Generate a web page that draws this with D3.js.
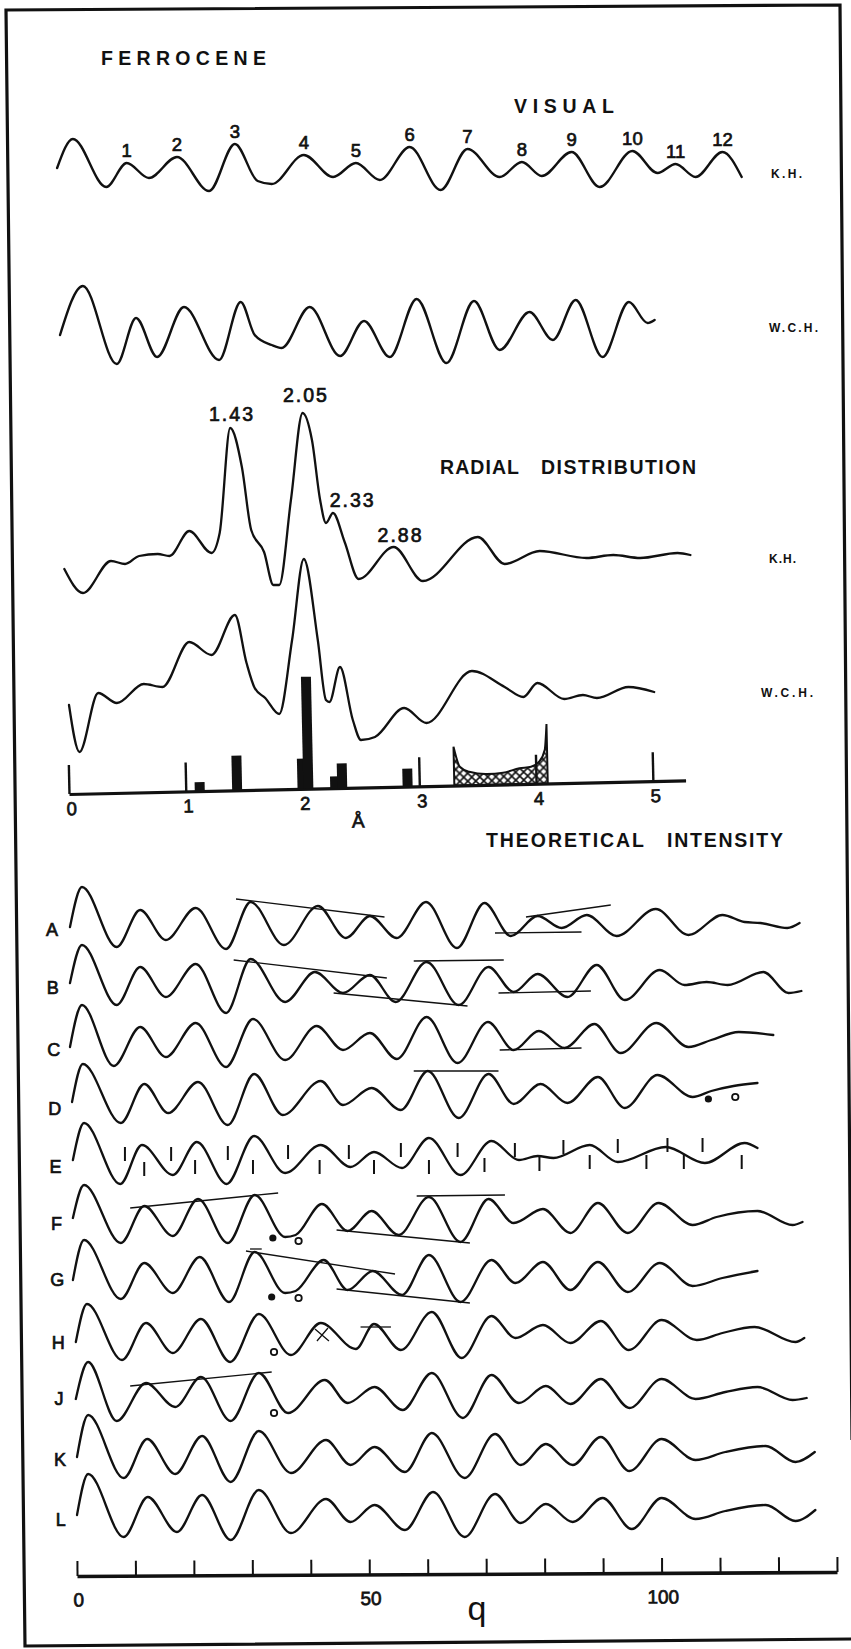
<!DOCTYPE html>
<html>
<head>
<meta charset="utf-8">
<script src="https://cdn.jsdelivr.net/npm/d3@7"></script>
<style>
    body { margin: 0; background: #fff; }
    text { font-family: 'Liberation Sans', Arial, sans-serif; fill: #111; }
    .pen { stroke: #111; stroke-width: 0.7; paint-order: stroke; }
</style>
</head>
<body>
<svg id="chart" width="851" height="1649"></svg>
<script>
// visual curves: [q, intensity]
const visualKH = [[-3.4,1],[-0.7,15.5],[5.0,-8.5],[8.5,3.5],[12.3,-4],[17.1,6.5],[22.6,-10.5],[27.0,13],[30.9,-5.5],[33.3,-7],[38.8,7.5],[43.8,-3.5],[47.7,3.5],[51.8,-5],[56.9,11.5],[62.2,-10],[66.8,10.5],[72.3,-3.5],[76.1,4],[79.5,-3],[84.6,9],[89.4,-8.5],[95.0,9.5],[99.3,-1.5],[102.4,3],[105.8,-3.5],[110.4,9],[113.7,-3.5]];
const visualPeakQ = [8.5, 17.1, 27.0, 38.8, 47.7, 56.9, 66.8, 76.1, 84.6, 95.0, 102.4, 110.4];
const visualPeakNames = ['1','2','3','4','5','6','7','8','9','10','11','12'];
const visualWCH = [[-2.9,-2.5],[1.0,22],[6.8,-17],[10.1,6],[13.7,-13.5],[18.3,11.5],[24.3,-15],[28.0,14],[30.4,-2.5],[33.3,-7.5],[35.0,-9],[39.8,11.5],[45.0,-13],[49.1,4.5],[53.5,-13.5],[58.1,15.5],[63.2,-16.5],[67.9,14.5],[72.3,-10],[77.4,9],[81.4,-5],[85.3,15],[89.9,-13.5],[94.4,14],[97.6,3.5],[98.8,5]];

// radial distribution: [r (Å), f(r)]
const radialKH = [[-0.04,-7],[0.12,-19],[0.36,-3],[0.48,-4.5],[0.60,-0.5],[0.76,0.5],[0.86,-0.5],[1.03,12],[1.22,1],[1.29,11],[1.38,63.5],[1.48,44],[1.56,12.5],[1.67,1.5],[1.75,-15],[1.80,-15],[1.90,27.5],[2.00,71],[2.08,57.5],[2.15,27.5],[2.20,16],[2.26,21],[2.36,6.5],[2.48,-12],[2.78,4],[3.03,-13],[3.50,9],[3.73,-4.5],[4.03,2],[4.43,-1.5],[4.66,0],[4.89,-1.5],[5.21,1],[5.32,0]];
const radialWCH = [[0.00,-6.5],[0.09,-30],[0.25,-0.5],[0.41,-5.5],[0.64,4],[0.80,2.5],[1.03,25],[1.22,18.5],[1.42,38.5],[1.52,14.5],[1.59,2],[1.68,-3],[1.80,-11],[1.91,26],[2.01,66.5],[2.13,26],[2.20,-4],[2.23,-5],[2.32,12.5],[2.43,-14],[2.50,-24],[2.62,-22.5],[2.87,-8],[3.06,-15.5],[3.45,10.5],[3.73,2.5],[3.89,-2.5],[4.01,4.5],[4.24,-3.5],[4.40,-1.5],[4.52,-3],[4.79,2.5],[5.01,0]];
const radialPeakNames = ['1.43', '2.05', '2.33', '2.88'];
const radialPeakR = [1.387, 2.02, 2.42, 2.83];
const radialPeakV = [70.5, 80, 27.5, 10];
const rTicks = [0, 1, 2, 3, 4, 5];

// distance bars
const barR = [1.12, 1.44, 2.00, 2.05, 2.28, 2.34, 2.90];
const barH = [0.8, 3.1, 2.7, 10, 1.05, 2.2, 1.6];
const hatchRange = [[3.30,3.46],[3.35,1.67],[3.43,1.2],[3.58,0.96],[3.72,1.05],[3.86,1.41],[3.96,1.53],[4.03,1.96],[4.08,2.99],[4.10,5.3]];

// theoretical intensity curves: [q, intensity]
const rowA = [[-1.2,1.5],[0.85,21.5],[6.8,-8.5],[10.8,10],[15.2,-5],[20.3,11],[25.5,-9.5],[29.7,14],[35.4,-7.5],[41.2,12],[46.0,-4],[50.1,7],[54.7,-4],[59.7,14],[65.0,-9],[69.7,13.5],[74.2,-3],[78.8,7],[82.9,1],[87.2,7.5],[92.3,-3],[99.0,10.5],[104.6,-2.5],[110.4,7.5],[114.2,4],[116.9,3.5],[121.5,1],[123.6,3.5]];
const rowB = [[-1.2,2.5],[0.85,21.5],[6.8,-8.5],[10.8,10.5],[15.2,-4.5],[20.3,12],[25.5,-12.5],[29.7,14.5],[35.6,-7],[40.7,8],[45.5,-2.5],[50.1,6.5],[54.5,-7],[59.8,13],[65.3,-8.5],[70.4,10.5],[74.7,-2],[78.8,7],[83.9,-4.5],[88.9,11.5],[93.7,-6],[99.7,9],[103.9,1.5],[107.7,3],[111.3,1.5],[117.4,8],[121.7,-2.5],[123.9,-1.5]];
const rowC = [[-1.2,1.5],[0.85,22.5],[6.3,-8],[10.8,11.5],[15.2,-3.5],[20.3,13.5],[25.5,-8.5],[30.1,15.5],[35.6,-5],[41.0,12],[45.5,0],[50.1,8.5],[54.7,-4.5],[59.8,16.5],[65.1,-6.5],[70.3,14],[74.7,0],[79.0,9.5],[83.4,1],[88.5,13],[93.0,-1.5],[99.1,13.5],[104.6,1.5],[108.5,5],[113.2,9],[119.1,7.5]];
const rowD = [[-0.85,3.5],[1.0,22.5],[7.5,-7],[11.5,12.5],[15.6,-2],[20.7,13.5],[25.8,-8],[30.3,17.5],[35.2,-3],[41.7,14],[45.5,2],[50.4,10.5],[55.4,-0.5],[60.0,19],[65.3,-4.5],[70.4,17.5],[74.7,2.5],[79.3,12.5],[83.9,3],[89.1,16],[93.7,0.5],[99.3,17],[105.3,6],[108.5,9],[112.3,11.5],[116.4,13]];
const rowE = [[-0.7,3.5],[1.2,22],[7.4,-8.5],[11.1,11],[16.4,-4],[20.5,12.5],[25.6,-8.5],[30.3,15.5],[35.6,-3],[41.7,11],[46.8,0],[50.8,7.5],[55.6,-0.5],[60.2,14.5],[65.6,-4],[70.9,13],[75.6,3.5],[78.8,5.5],[81.5,4.5],[87.7,11],[92.5,2.5],[100.7,10],[107.4,2],[114.2,12],[116.4,9.5]];
const rowF = [[-0.7,3],[1.2,19.5],[7.5,-9.5],[11.5,9],[16.4,-6],[20.7,12.5],[25.8,-9.5],[30.4,14.5],[35.6,-6.5],[37.4,-5.5],[41.9,10],[46.3,-3.5],[50.4,6.5],[55.0,-5.5],[60.2,13.5],[65.6,-9],[70.4,12.5],[74.7,0.5],[79.7,7.5],[84.4,-4.5],[89.1,10.5],[94.2,-4.5],[99.5,10.5],[105.3,-0.5],[109.4,3.5],[116.4,6.5],[122.4,-0.5],[124.1,1]];
const rowG = [[-0.7,0],[1.2,20],[7.5,-9.5],[11.5,8.5],[16.4,-6.5],[21.0,11.5],[26.0,-11],[30.4,14],[35.6,-6.5],[37.4,-5.5],[42.2,10],[46.3,-5],[50.6,4.5],[55.6,-7.5],[60.2,12.5],[65.6,-11],[70.9,10],[75.0,-1.5],[79.7,9],[84.4,-5],[89.1,9],[94.2,-6],[99.7,8.5],[105.3,-3],[110.4,1],[116.4,4.5]];
const rowH = [[-0.2,0.5],[1.7,19.5],[7.7,-8.5],[11.8,10],[16.4,-5],[21.2,12],[26.2,-9.5],[31.1,14.5],[36.6,-6],[41.7,10],[47.7,-3],[50.8,9.5],[55.4,-3.5],[60.7,15.5],[65.8,-7.5],[70.9,13.5],[75.0,2.5],[79.7,9],[84.4,0],[89.6,11],[94.4,-3.5],[100.0,11.5],[106.0,1.5],[110.4,5],[115.9,8],[122.9,0.5],[124.4,2.5]];
const rowJ = [[-0.2,0],[1.9,18.5],[6.8,-11],[11.8,8],[16.8,-4],[21.2,11],[26.3,-11],[31.1,13],[36.1,-7],[42.4,9.5],[46.3,-2],[50.9,6],[55.7,-5.5],[60.7,13],[66.0,-9.5],[70.9,12],[75.6,-2],[80.2,6.5],[84.4,-2.5],[89.6,10],[94.5,-4.5],[100.0,10],[105.8,0],[110.9,3.5],[116.4,6],[122.4,-0.5],[124.8,0.5]];
const rowK = [[0,1.5],[1.9,22.5],[8.0,-9],[12.0,10.5],[16.8,-7],[21.4,12],[26.3,-11],[31.1,14.5],[36.6,-6.5],[42.6,10],[46.8,-2.5],[50.9,6.5],[56.1,-6],[60.7,13.5],[66.3,-9],[71.5,13],[75.9,-2.5],[80.2,8],[84.8,-2.5],[89.6,11.5],[94.5,-5.5],[100.0,10.5],[105.8,0],[110.9,4],[117.8,7],[122.9,-1],[126.2,4]];
const rowL = [[0,2.5],[1.9,23],[8.0,-8.5],[12.1,11.5],[17.1,-6],[21.4,12.5],[26.3,-10],[31.1,15],[36.6,-6.5],[42.6,10.5],[46.8,-1],[50.9,7.5],[56.1,-5],[60.9,14],[66.3,-8.5],[71.5,13],[75.9,-1.5],[80.2,8],[84.8,-1],[89.9,11],[94.9,-4.5],[100.0,11],[105.8,0.5],[110.9,4.5],[117.8,7.5],[122.9,-0.5],[126.3,5]];
const rowNames = ['A','B','C','D','E','F','G','H','J','K','L'];

// pencil marks on the theoretical curves: [q1, v1, q2, v2]
const marksA = [[27.2,15.5,52.6,6.5],[71.5,-1.5,86.3,-1],[76.8,6.5,91.3,12.5]];
const marksB = [[26.8,14,53.0,5],[43.9,-2.5,66.8,-9],[57.6,13.5,73.0,14],[72.1,-2.5,87.9,-1.5]];
const marksC = [[72.3,0,86.3,1]];
const marksD = [[57.6,19,72.1,19]];
const marksF = [[9.1,8,34.4,15.5],[44.4,-3,67.2,-9.5],[58.1,14,73.2,14.5]];
const marksG = [[28.9,14.5,54.4,3],[44.4,-4.5,67.2,-11.5],[29.6,15.5,31.6,15.5]];
const marksH = [[48.5,8,53.7,8]];
const marksJ = [[9.1,6.5,33.3,13.5]];
// [row index, q, v]
const filledDots = [[3,108.0,5],[5,33.5,-7],[6,33.3,-8.5]];
const openDots = [[3,112.6,6],[5,37.9,-8.5],[6,37.9,-9],[7,33.7,-4.5],[8,33.7,-7]];
const crossMarks = [[7,41.9,4]];
// tick marks on curve E: [q, v of top]
const eTicksUpper = [[8.2,10],[16.1,10],[25.8,10.5],[36.1,11],[46.5,11],[55.4,12],[65.1,12],[74.9,12],[83.2,13.5],[92.5,14],[101.0,14.5],[107.0,14.5]];
const eTicksLower = [[11.5,2.5],[20.2,3.5],[30.1,3.5],[41.5,3.5],[50.8,3.5],[60.2,3.5],[69.7,4.5],[79.1,5],[87.7,6],[97.4,6],[103.8,6],[113.7,6]];
const qTicks = d3.range(0, 131, 10);

const theoRows = [rowA, rowB, rowC, rowD, rowE, rowF, rowG, rowH, rowJ, rowK, rowL];
const theoMarks = [marksA, marksB, marksC, marksD, [], marksF, marksG, marksH, marksJ, [], []];

// layout
const rowY = [930, 988, 1050, 1109, 1167, 1224, 1280, 1343, 1399, 1460, 1520];
const visualY = [170, 330];
const radialY = [555, 692];
const rAxisY = 794;
const qAxisY = 1576;

const svg = d3.select('#chart');

const qScale = d3.scaleLinear().domain([0, 130]).range([77, 837]);
const rScale = d3.scaleLinear().domain([0, 5]).range([69, 653]);
const amp = d3.scaleLinear().domain([-10, 10]).range([20, -20]);
const barScale = d3.scaleLinear().domain([0, 10]).range([0, -112]);

function trace(data, xs, baseY) {
    return d3.line()
        .x(d => xs(d[0]))
        .y(d => baseY + amp(d[1]))
        .curve(d3.curveMonotoneX)(data);
}

function drawCurve(data, xs, baseY, width) {
    svg.append('path')
        .attr('d', trace(data, xs, baseY))
        .attr('fill', 'none')
        .attr('stroke', '#111')
        .attr('stroke-width', width || 2.3)
        .attr('stroke-linejoin', 'round')
        .attr('stroke-linecap', 'round');
}

function label(txt, x, y, size, opts) {
    const o = opts || {};
    const t = svg.append('text')
        .attr('x', x)
        .attr('y', y)
        .attr('font-size', size)
        .attr('font-weight', o.bold ? 'bold' : 'normal')
        .attr('text-anchor', o.anchor || 'start')
        .text(txt);
    if (o.pen) t.attr('class', 'pen');
    if (o.len) t.attr('textLength', o.len).attr('lengthAdjust', 'spacing');
    if (o.dy) t.attr('dy', o.dy);
    return t;
}

// frame
svg.append('path')
    .attr('d', 'M852,1440 L840,5 L6,10 L25,1646 L852,1639')
    .attr('fill', 'none')
    .attr('stroke', '#111')
    .attr('stroke-width', 3.2);

// headings
label('FERROCENE', 101, 64.5, 19.5, { bold: true, len: 165 });
label('VISUAL', 514, 113, 19.5, { bold: true, len: 100 });
label('RADIAL', 440, 474, 19.5, { bold: true, len: 79 });
label('DISTRIBUTION', 541, 474, 19.5, { bold: true, len: 155 });
label('THEORETICAL', 486, 847, 19.5, { bold: true, len: 158 });
label('INTENSITY', 667, 847, 19.5, { bold: true, len: 116 });

// visual section
drawCurve(visualKH, qScale, visualY[0], 2.4);
drawCurve(visualWCH, qScale, visualY[1], 2.4);
visualPeakQ.forEach((q, i) => {
    const pt = visualKH.find(d => d[0] === q);
    label(visualPeakNames[i], qScale(q), visualY[0] + amp(pt[1]) - 12, 18.5, { anchor: 'middle', dy: '0.35em', pen: true });
});
label('K.H.', 771, 177.5, 12, { bold: true, len: 31 });
label('W.C.H.', 769, 331.5, 12, { bold: true, len: 49 });

// radial distribution
drawCurve(radialKH, rScale, radialY[0], 2.3);
drawCurve(radialWCH, rScale, radialY[1], 2.3);
radialPeakNames.forEach((name, i) => {
    label(name, rScale(radialPeakR[i]), radialY[0] + amp(radialPeakV[i]), 19.5, { anchor: 'middle', dy: '0.35em', len: 44, pen: true });
});
label('K.H.', 769, 563, 12, { bold: true, len: 27 });
label('W.C.H.', 761, 696.5, 12, { bold: true, len: 52 });

const defs = svg.append('defs');
const pat = defs.append('pattern')
    .attr('id', 'xhatch')
    .attr('patternUnits', 'userSpaceOnUse')
    .attr('width', 8)
    .attr('height', 8);
pat.append('path').attr('d', 'M0,0 L8,8 M8,0 L0,8').attr('stroke', '#111').attr('stroke-width', 1.6);

const rg = svg.append('g')
    .attr('transform', `rotate(-1.26,69,${rAxisY}) translate(0,${rAxisY})`);

const rAxisScale = rScale.copy().domain([0, 5.28]).range([rScale(0), rScale(5.28)]);
const rAxis = rg.append('g')
    .call(d3.axisBottom(rAxisScale)
        .tickValues(rTicks)
        .tickSizeInner(-29)
        .tickSizeOuter(0)
        .tickPadding(8)
        .tickFormat(d3.format('d')));
rAxis.select('.domain').attr('stroke', '#111').attr('stroke-width', 3.2);
rAxis.selectAll('.tick line').attr('stroke', '#111').attr('stroke-width', 2.4);
rAxis.selectAll('.tick text')
    .attr('font-size', 18.5)
    .attr('font-family', "'Liberation Sans', Arial, sans-serif")
    .attr('fill', '#111')
    .attr('class', 'pen')
    .attr('dx', 2);

rg.append('path')
    .attr('d', d3.area()
        .x(d => rScale(d[0]))
        .y0(0)
        .y1(d => barScale(d[1]))
        .curve(d3.curveMonotoneX)(hatchRange))
    .attr('fill', 'url(#xhatch)')
    .attr('stroke', '#111')
    .attr('stroke-width', 2);

rg.selectAll('.bar')
    .data(barR)
    .enter().append('rect')
    .attr('class', 'bar')
    .attr('x', d => rScale(d) - 5)
    .attr('width', 10)
    .attr('y', (d, i) => barScale(barH[i]))
    .attr('height', (d, i) => -barScale(barH[i]))
    .attr('fill', '#111');

rg.append('text')
    .attr('x', rScale(2.47))
    .attr('y', 40)
    .attr('font-size', 19)
    .attr('class', 'pen')
    .attr('text-anchor', 'middle')
    .text('Å');

// theoretical intensity rows
theoRows.forEach((row, i) => {
    const y0 = rowY[i];
    drawCurve(row, qScale, y0, 2.3);
    label(rowNames[i], 52 + (y0 - rowY[0]) * 0.015, y0, 18, { anchor: 'middle', dy: '0.35em', pen: true });
    theoMarks[i].forEach(m => {
        svg.append('line')
            .attr('x1', qScale(m[0])).attr('y1', y0 + amp(m[1]))
            .attr('x2', qScale(m[2])).attr('y2', y0 + amp(m[3]))
            .attr('stroke', '#111')
            .attr('stroke-width', 1.3);
    });
});

filledDots.forEach(d => {
    svg.append('circle')
        .attr('cx', qScale(d[1]))
        .attr('cy', rowY[d[0]] + amp(d[2]))
        .attr('r', 3.6)
        .attr('fill', '#111');
});
openDots.forEach(d => {
    svg.append('circle')
        .attr('cx', qScale(d[1]))
        .attr('cy', rowY[d[0]] + amp(d[2]))
        .attr('r', 3.2)
        .attr('fill', 'none')
        .attr('stroke', '#111')
        .attr('stroke-width', 1.8);
});
crossMarks.forEach(d => {
    const cx = qScale(d[1]);
    const cy = rowY[d[0]] + amp(d[2]);
    svg.append('path')
        .attr('d', `M${cx - 7},${cy - 6} L${cx + 7},${cy + 6} M${cx + 6},${cy - 7} L${cx - 5},${cy + 6}`)
        .attr('stroke', '#111')
        .attr('stroke-width', 1.3);
});

const eY = rowY[4];
eTicksUpper.concat(eTicksLower).forEach(t => {
    svg.append('line')
        .attr('x1', qScale(t[0])).attr('x2', qScale(t[0]))
        .attr('y1', eY + amp(t[1])).attr('y2', eY + amp(t[1]) + 14)
        .attr('stroke', '#111')
        .attr('stroke-width', 2);
});

// q axis
const qg = svg.append('g')
    .attr('transform', `rotate(-0.3,77,${qAxisY}) translate(0,${qAxisY})`)
    .call(d3.axisBottom(qScale)
        .tickValues(qTicks)
        .tickSizeInner(-15)
        .tickSizeOuter(0)
        .tickPadding(17)
        .tickFormat(d => d % 50 === 0 ? d : ''));
qg.select('.domain').attr('stroke', '#111').attr('stroke-width', 3.6);
qg.selectAll('.tick line').attr('stroke', '#111').attr('stroke-width', 2);
qg.selectAll('.tick text')
    .attr('font-size', 19)
    .attr('font-family', "'Liberation Sans', Arial, sans-serif")
    .attr('fill', '#111')
    .attr('class', 'pen')
    .attr('dx', 1);

label('q', 477, 1620, 34, { anchor: 'middle' });
</script>
</body>
</html>
